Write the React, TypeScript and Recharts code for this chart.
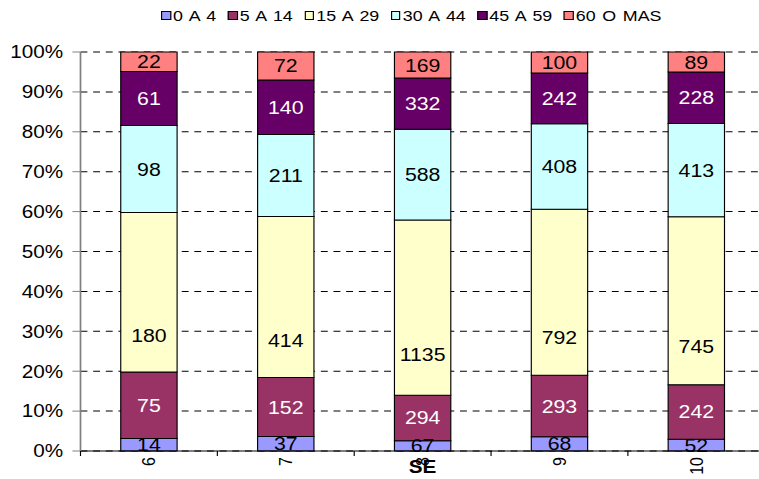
import React from 'react';
import { BarChart, Bar, XAxis, YAxis, CartesianGrid, Legend, LabelList } from 'recharts';

const categories = ['6', '7', '8', '9', '10'];
const overlayIndex = 2;
const overlayText = 'SE';
const seriesNames = ['0 A 4', '5 A 14', '15 A 29', '30 A 44', '45 A 59', '60 O MAS'];
const s0a4 = [14, 37, 67, 68, 52];
const s5a14 = [75, 152, 294, 293, 242];
const s15a29 = [180, 414, 1135, 792, 745];
const s30a44 = [98, 211, 588, 408, 413];
const s45a59 = [61, 140, 332, 242, 228];
const s60mas = [22, 72, 169, 100, 89];
const yTicks = [0, 0.1, 0.2, 0.3, 0.4, 0.5, 0.6, 0.7, 0.8, 0.9, 1];

const seriesValues = [s0a4, s5a14, s15a29, s30a44, s45a59, s60mas];
const seriesColors = ['#9999FF', '#993366', '#FFFFCC', '#CCFFFF', '#660066', '#FF8080'];
const labelColors = ['#000000', '#FFFFFF', '#000000', '#000000', '#FFFFFF', '#000000'];
const labelFrac = [0.5, 0.5, 0.77, 0.5, 0.5, 0.5];

const data = categories.map((c, i) => {
  const row: Record<string, string | number> = { cat: c };
  seriesValues.forEach((arr, k) => {
    row['k' + k] = arr[i];
  });
  return row;
});

const FONT = '"Liberation Sans", Arial, sans-serif';
const STRETCH = 1.15;
const CHART_W = 670;
const CHART_H = 479;
const YAXIS_W = 70;
const MARGIN = { top: 5, right: 5, bottom: 0, left: 0 };
const BAND = (CHART_W - MARGIN.left - MARGIN.right - YAXIS_W) / categories.length;

const makeLabel = (color: string, frac: number) => (props: any) => {
  const { x, y, width, height, value } = props;
  const top = Math.min(Number(y), Number(y) + Number(height));
  const h = Math.abs(Number(height));
  const cx = Number(x) + Number(width) / 2;
  const cy = top + h * frac;
  return (
    <text x={cx} y={cy} dy="0.35em" textAnchor="middle" fill={color} fontSize={18.5} fontFamily={FONT}>
      {value}
    </text>
  );
};

const XTick = (props: any) => {
  const { x, y, payload, index } = props;
  const left = x - BAND / 2;
  const isLast = index === categories.length - 1;
  return (
    <g>
      <line x1={left} y1={y} x2={left} y2={y + 5} stroke="#000" strokeWidth={1} />
      {isLast && <line x1={x + BAND / 2} y1={y} x2={x + BAND / 2} y2={y + 5} stroke="#000" strokeWidth={1} />}
      <text
        transform={`translate(${x},${y + 6}) rotate(-90)`}
        textAnchor="end"
        dy="0.35em"
        fontSize={16}
        fontFamily={FONT}
        fill="#000"
      >
        {payload.value}
      </text>
      {index === overlayIndex && (
        <text x={x} y={y + 15.5} dy="0.35em" textAnchor="middle" fontSize={18} fontWeight="bold" fontFamily={FONT} fill="#000">
          {overlayText}
        </text>
      )}
    </g>
  );
};

const LegendContent = () => (
  <div
    style={{
      height: 47,
      boxSizing: 'border-box',
      display: 'flex',
      alignItems: 'flex-start',
      paddingLeft: 140,
      fontFamily: FONT,
      margin: 0,
    }}
  >
    {seriesNames.map((n, i) => (
      <div key={n} style={{ display: 'flex', alignItems: 'center', height: 21, marginRight: 10, flexShrink: 0 }}>
        <span
          style={{
            display: 'inline-block',
            flexShrink: 0,
            width: 8.7,
            height: 9,
            background: seriesColors[i],
            border: '1px solid #000',
            boxSizing: 'border-box',
            marginRight: 1.8,
          }}
        />
        <span style={{ fontSize: 15.5, lineHeight: '21px', color: '#000', whiteSpace: 'nowrap', wordSpacing: 1.5 }}>{n}</span>
      </div>
    ))}
  </div>
);

export default function App() {
  return (
    <div style={{ position: 'absolute', left: 0, top: 0, width: 759, height: 479, overflow: 'hidden', background: '#fff' }}>
      <div style={{ transform: `scaleX(${STRETCH})`, transformOrigin: '0 0', width: CHART_W, height: CHART_H }}>
        <BarChart
          width={CHART_W}
          height={CHART_H}
          data={data}
          margin={MARGIN}
          stackOffset="expand"
          style={{ fontFamily: FONT }}
        >
          <CartesianGrid horizontal vertical={false} stroke="#000" strokeDasharray="6 5" />
          <Legend
            verticalAlign="top"
            content={<LegendContent />}
            wrapperStyle={{ top: 5, left: 0, width: CHART_W, margin: 0, padding: 0 }}
          />
          <XAxis
            dataKey="cat"
            type="category"
            height={28}
            tickLine={false}
            tickSize={0}
            tickMargin={0}
            axisLine={{ stroke: '#000', strokeWidth: 1 }}
            tick={<XTick />}
            interval={0}
          />
          <YAxis
            type="number"
            domain={[0, 1]}
            ticks={yTicks}
            width={YAXIS_W}
            tickSize={7}
            tickMargin={8}
            tickLine={{ stroke: '#808080' }}
            axisLine={{ stroke: '#808080', strokeWidth: 1.5 }}
            tickFormatter={(v: number) => `${Math.round(v * 100)}%`}
            tick={{ fill: '#000', fontSize: 18, fontFamily: FONT }}
            interval={0}
          />
          {seriesNames.map((n, k) => (
            <Bar
              key={n}
              dataKey={'k' + k}
              name={n}
              stackId="a"
              fill={seriesColors[k]}
              stroke="#000"
              strokeWidth={1}
              barSize={49}
              isAnimationActive={false}
            >
              <LabelList dataKey={'k' + k} content={makeLabel(labelColors[k], labelFrac[k])} />
            </Bar>
          ))}
        </BarChart>
      </div>
    </div>
  );
}
